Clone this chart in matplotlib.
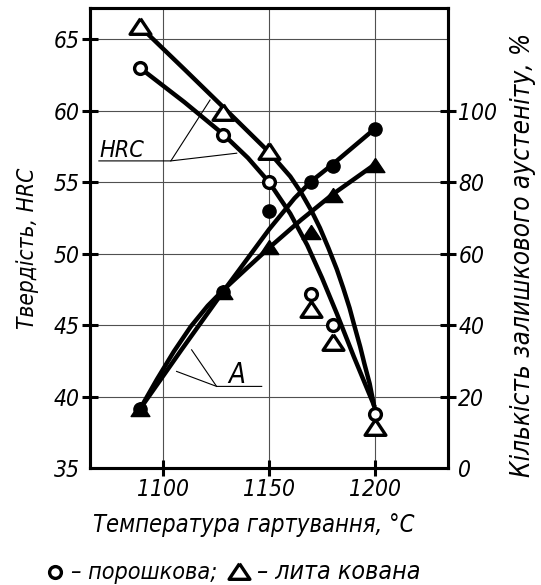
import matplotlib
matplotlib.use('Agg')
import matplotlib.pyplot as plt
from matplotlib import font_manager as fm
from matplotlib.lines import Line2D
from matplotlib.markers import MarkerStyle

# measured points (temperature, °C)
temp = [1089, 1128, 1150, 1170, 1180, 1200]
hrc_powder = [63.0, 58.3, 55.0, 47.2, 45.0, 38.8]     # open circles
hrc_cast = [65.9, 59.9, 57.2, 46.1, 43.8, 37.9]       # open triangles
aus_powder = [16.5, 49.4, 72.0, 80.0, 84.5, 95.0]     # filled circles, %
aus_cast = [16.5, 49.4, 62.0, 66.0, 76.3, 84.8]       # filled triangles, %

# hand-drawn trend curves
hrc_powder_curve_t = [1089, 1110, 1128, 1140, 1150, 1160, 1168, 1175, 1182, 1190, 1199.5]
hrc_powder_curve = [63.0, 60.6, 58.4, 56.7, 55.0, 52.8, 50.6, 48.3, 45.8, 42.8, 39.4]
hrc_cast_curve_t = [1089, 1110, 1128, 1150, 1160, 1165, 1170, 1174, 1178, 1182, 1185, 1188,
                    1190, 1193, 1195, 1197.5, 1199.5]
hrc_cast_curve = [65.9, 62.9, 60.3, 57.1, 55.4, 54.3, 53.0, 51.8, 50.4, 48.9, 47.6, 46.2,
                  45.1, 43.5, 42.3, 40.9, 39.4]
aus_powder_curve_t = [1089, 1108.5, 1128.3, 1150, 1162, 1170, 1180, 1190, 1200]
aus_powder_curve = [16.5, 33.0, 49.4, 66.8, 75.5, 80.3, 85.0, 90.0, 95.0]
aus_cast_curve_t = [1089, 1097, 1105, 1113, 1121, 1128.3, 1140, 1150.5, 1165, 1180, 1200]
aus_cast_curve = [16.5, 24.8, 32.6, 39.6, 45.4, 49.8, 56.2, 61.9, 69.4, 76.6, 85.0]


def narrow_font():
    narrow = ('condensed', 'semi-condensed', 'extra-condensed', 'ultra-condensed')
    found = [f for f in fm.fontManager.ttflist
             if str(f.stretch) in narrow or 'Narrow' in f.name or 'Condensed' in f.name]
    found.sort(key=lambda f: (f.style == 'normal', f.weight not in (400, 'normal', 'regular')))
    if found:
        return fm.FontProperties(fname=found[0].fname)
    return fm.FontProperties(family='Roboto', style='italic')


FP = narrow_font()
plt.rcParams['font.style'] = 'italic'

tri = MarkerStyle([(0, 0.75), (-1, -0.75), (1, -0.75), (0, 0.75)], joinstyle='miter')

fig = plt.figure(figsize=(5.41, 5.85), dpi=100)
renderer = fig.canvas.get_renderer()
W, H = 541, 585


def fit(txt, target, size0=20):
    txt.set_fontsize(size0)
    bb = txt.get_window_extent(renderer)
    length = max(bb.width, bb.height) if txt.get_rotation() else bb.width
    txt.set_fontsize(size0 * target / length)
    return txt


ax = fig.add_axes([90 / W, 1 - 468 / H, 358 / W, 460 / H])
ax.set_xlim(1065.4, 1234.5)
ax.set_ylim(35, 67.19)
ax2 = ax.twinx()
ax2.set_ylim(0, (67.19 - 35) * 4)

ax.set_xticks([1100, 1150, 1200])
ax.set_yticks([35, 40, 45, 50, 55, 60, 65])
ax2.set_yticks([0, 20, 40, 60, 80, 100])
ax.grid(True, color='#505050', lw=0.8, zorder=0)
ax.set_axisbelow(True)

probe = fit(fig.text(0, 0, '1100', fontproperties=FP.copy()), 52)
tick_size = min(probe.get_fontsize(), 18)
probe.remove()

for a in (ax, ax2):
    for s in a.spines.values():
        s.set_linewidth(2.2)
    a.tick_params(direction='inout', length=11, width=2.2, pad=2)
    for lab in a.get_xticklabels() + a.get_yticklabels():
        lab.set_fontproperties(FP.copy())
        lab.set_fontsize(tick_size)
ax.yaxis.get_major_ticks()[0].tick1line.set_visible(False)
ax2.yaxis.get_major_ticks()[0].tick2line.set_visible(False)

# hardness curves
ax.plot(hrc_powder_curve_t, hrc_powder_curve, color='black', lw=3.2, solid_joinstyle='round', zorder=2)
ax.plot(hrc_cast_curve_t, hrc_cast_curve, color='black', lw=3.2, solid_joinstyle='round', zorder=2)
ax.plot(temp, hrc_powder, 'o', ms=8.5, mfc='white', mec='black', mew=2.4, zorder=3)
ax.plot(temp, hrc_cast, marker=tri, ls='none', ms=15, mfc='white', mec='black', mew=2.4, zorder=3)

# retained austenite
ax2.plot(aus_powder_curve_t, aus_powder_curve, color='black', lw=3.2, solid_joinstyle='round')
ax2.plot(aus_cast_curve_t, aus_cast_curve, color='black', lw=3.2, solid_joinstyle='round')
ax2.plot(temp, aus_powder, 'o', ms=9.5, color='black')
ax2.plot(temp, aus_cast, marker=tri, ls='none', ms=13.5, color='black')

# leaders
ax.plot([1069.6, 1103.6, 1122.1], [56.49, 56.49, 60.75], color='black', lw=0.8)
ax.plot([1103.6, 1134.7], [56.49, 57.03], color='black', lw=0.8)
fit(ax.text(1069.8, 56.77, 'HRC', fontproperties=FP.copy(), ha='left', va='baseline'), 45)
ax.plot([1146.5, 1125.2, 1113.4], [40.71, 40.71, 43.27], color='black', lw=0.8)
ax.plot([1125.2, 1106.3], [40.71, 41.76], color='black', lw=0.8)
fit(ax.text(1130.6, 40.96, 'A', fontproperties=FP.copy(), ha='left', va='baseline'), 17)

fit(fig.text(28 / W, 1 - 248 / H, 'Твердість, HRC', fontproperties=FP.copy(), rotation=90,
             ha='center', va='center'), 161)
fit(fig.text(523 / W, 1 - 255 / H, 'Кількість залишкового аустеніту, %', fontproperties=FP.copy(),
             rotation=90, ha='center', va='center'), 444)
fit(fig.text(254 / W, 1 - 525 / H, 'Температура гартування, °C', fontproperties=FP.copy(),
             ha='center', va='center'), 322)

# legend line: markers placed after the measured text pieces
y_leg = 1 - 572 / H
fig.add_artist(Line2D([55 / W], [y_leg], transform=fig.transFigure, marker='o', ms=8.5,
                      mfc='white', mec='black', mew=2.4))
t1 = fit(fig.text(71 / W, y_leg, '– порошкова;', fontproperties=FP.copy(), ha='left', va='center'), 146)
x_tri = t1.get_window_extent(renderer).x1 + 22
fig.add_artist(Line2D([x_tri / W], [y_leg + 1 / H], transform=fig.transFigure, marker=tri, ms=15,
                      mfc='white', mec='black', mew=2.4))
fit(fig.text((x_tri + 18) / W, y_leg, '– лита кована', fontproperties=FP.copy(), ha='left', va='center'), 163)

fig.savefig('out.png', dpi=100)
